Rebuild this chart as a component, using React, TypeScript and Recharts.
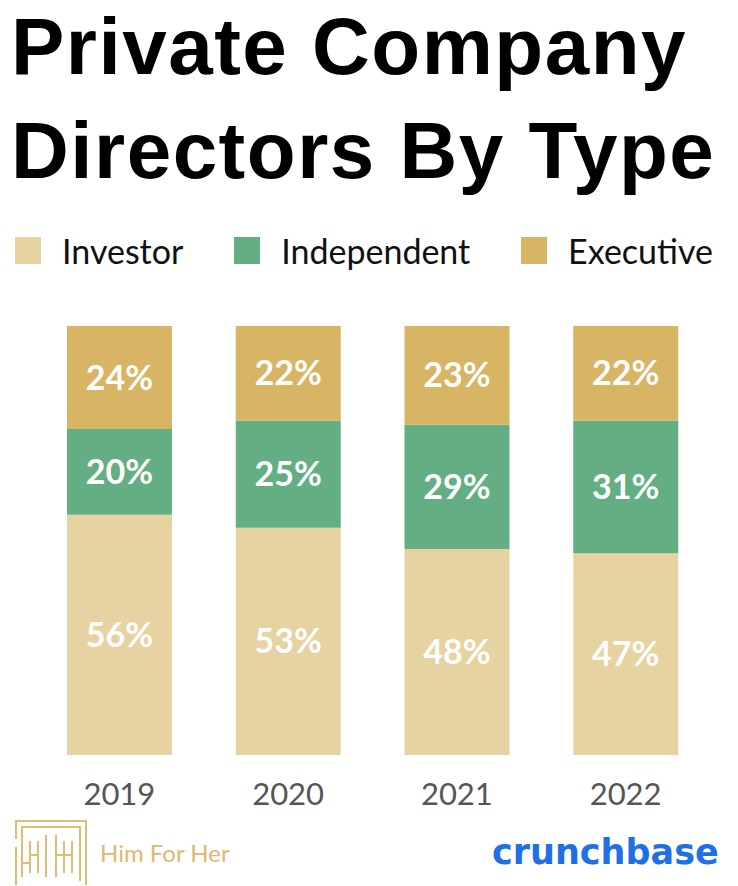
import React from "react";
import { BarChart, Bar, XAxis, YAxis, LabelList } from "recharts";

const years = ["2019", "2020", "2021", "2022"];
const investor = [56, 53, 48, 47];
const independent = [20, 25, 29, 31];
const executive = [24, 22, 23, 22];

const seriesNames = ["Investor", "Independent", "Executive"];
const seriesKeys = ["investor", "independent", "executive"];
const seriesColors = ["#E7D2A2", "#63AF83", "#D8B465"];

const titleLines = ["Private Company", "Directors By Type"];

const data = years.map((y, i) => ({
  year: y,
  investor: investor[i],
  independent: independent[i],
  executive: executive[i],
}));

const FONT = "Lato, 'Noto Sans', sans-serif";

const YearTick = (props: any) => {
  const { x, y, payload } = props;
  return (
    <text x={x} y={y} dy={42} textAnchor="middle" fill="#555555" fontSize={31} fontFamily={FONT}>
      {payload.value}
    </text>
  );
};

const HfhLogo = () => (
  <svg width={80} height={70} style={{ position: "absolute", left: 12, top: 817 }}>
    <g stroke="#DFBD74" strokeWidth={2} fill="none">
      <polyline points="4,22 4,4 74,4 74,68" />
      <polyline points="4,30 4,68" />
      <polyline points="10,60 10,10 68,10 68,64" />
      <line x1={18} y1={24} x2={18} y2={56} />
      <line x1={26} y1={24} x2={26} y2={56} />
      <line x1={18} y1={38} x2={26} y2={38} />
      <line x1={34} y1={18} x2={34} y2={60} />
      <line x1={44} y1={18} x2={44} y2={60} />
      <line x1={52} y1={24} x2={52} y2={56} />
      <line x1={60} y1={24} x2={60} y2={56} />
      <line x1={44} y1={38} x2={60} y2={38} />
      <line x1={10} y1={46} x2={18} y2={46} />
    </g>
  </svg>
);

export default function App() {
  return (
    <div
      style={{
        position: "absolute",
        left: 0,
        top: 0,
        width: 738,
        height: 886,
        background: "#ffffff",
        overflow: "hidden",
        fontFamily: FONT,
      }}
    >
      {titleLines.map((t, i) => (
        <div
          key={t}
          style={{
            position: "absolute",
            left: 11,
            top: 1 + i * 104,
            fontSize: 80,
            fontWeight: 700,
            lineHeight: "normal",
            letterSpacing: 1.5,
            color: "#000",
            whiteSpace: "nowrap",
            fontFamily: "'Liberation Sans', Arial, sans-serif",
          }}
        >
          {t}
        </div>
      ))}

      <div
        style={{
          position: "absolute",
          left: 15,
          top: 228,
          width: 698,
          display: "flex",
          justifyContent: "space-between",
          alignItems: "center",
          height: 44,
        }}
      >
        {seriesNames.map((n, i) => (
          <div key={n} style={{ display: "flex", alignItems: "center" }}>
            <div style={{ width: 26, height: 27, background: seriesColors[i], marginRight: 21 }} />
            <span style={{ fontSize: 34, color: "#111", fontWeight: 400 }}>{n}</span>
          </div>
        ))}
      </div>

      <div style={{ position: "absolute", left: 0, top: 300 }}>
        <BarChart
          width={738}
          height={530}
          data={data}
          margin={{ top: 26, right: 28, bottom: 0, left: 35 }}
          barSize={105}
        >
          <XAxis dataKey="year" axisLine={false} tickLine={false} height={75} tick={<YearTick />} interval={0} />
          <YAxis hide domain={[0, 100]} />
          {seriesKeys.map((k, i) => (
            <Bar key={k} dataKey={k} stackId="a" fill={seriesColors[i]} isAnimationActive={false}>
              <LabelList
                dataKey={k}
                position="center"
                formatter={(v: any) => `${v}%`}
                fill="#ffffff"
                fontSize={34}
                fontWeight={700}
                fontFamily={FONT}
              />
            </Bar>
          ))}
        </BarChart>
      </div>

      <HfhLogo />
      <div
        style={{
          position: "absolute",
          left: 100,
          top: 838,
          fontSize: 24,
          color: "#DDB970",
          fontWeight: 400,
        }}
      >
        Him For Her
      </div>
      <div
        style={{
          position: "absolute",
          left: 492,
          top: 832,
          fontSize: 35,
          color: "#1F6FE5",
          fontWeight: 700,
          fontFamily: "'DejaVu Sans', sans-serif",
        }}
      >
        crunchbase
      </div>
    </div>
  );
}
